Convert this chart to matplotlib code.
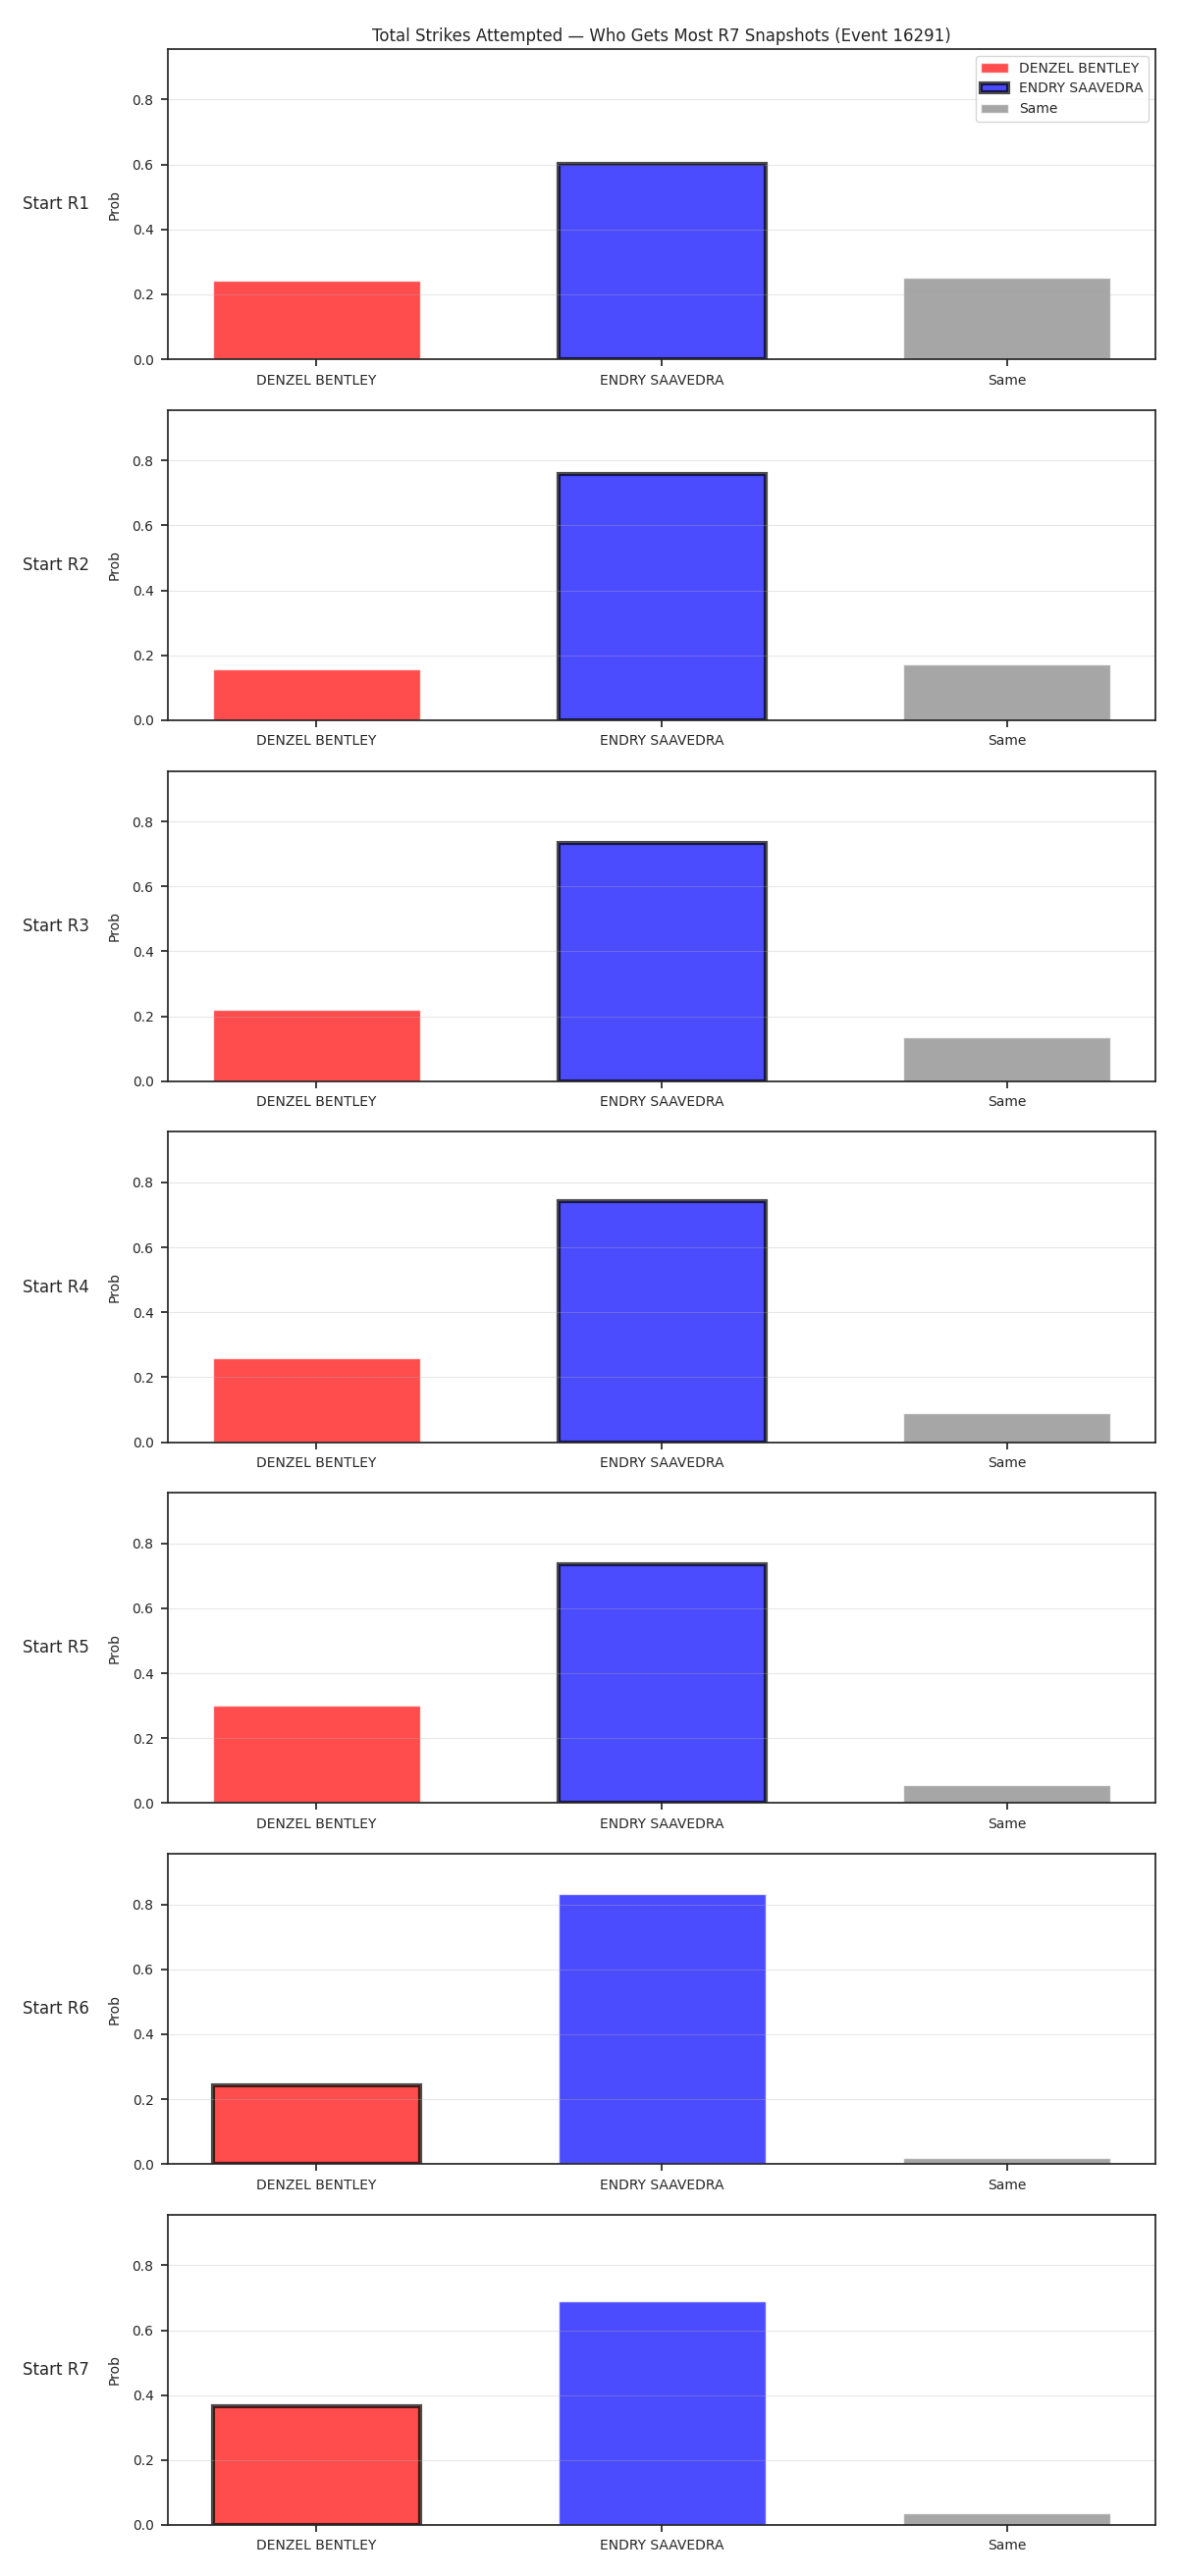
import numpy as np
import matplotlib
matplotlib.use("Agg")
import matplotlib.pyplot as plt

# data
title = "Total Strikes Attempted \u2014 Who Gets Most R7 Snapshots (Event 16291)"
outcomes = ["DENZEL BENTLEY", "ENDRY SAAVEDRA", "Same"]
starts = ["Start R1", "Start R2", "Start R3", "Start R4", "Start R5", "Start R6", "Start R7"]
p_denzel = [0.242, 0.158, 0.220, 0.260, 0.300, 0.243, 0.367]
p_endry = [0.601, 0.760, 0.734, 0.743, 0.737, 0.831, 0.690]
p_same = [0.251, 0.172, 0.134, 0.090, 0.055, 0.020, 0.036]
highlight = [1, 1, 1, 1, 1, 0, 0]   # bar outlined in each row

colors = ["red", "blue", "gray"]

plt.rcParams["axes.edgecolor"] = ".15"
plt.rcParams["axes.linewidth"] = 1.25
for a in ("xtick", "ytick"):
    plt.rcParams[a + ".major.size"] = 4.8
    plt.rcParams[a + ".major.pad"] = 5.6
    plt.rcParams[a + ".major.width"] = 1.25
    plt.rcParams[a + ".color"] = ".15"
    plt.rcParams[a + ".labelcolor"] = ".15"
plt.rcParams["text.color"] = ".15"
plt.rcParams["axes.labelcolor"] = ".15"

fig, axes = plt.subplots(len(starts), 1, figsize=(12, 26.25), dpi=100)
fig.subplots_adjust(left=0.1425, right=0.981, top=0.98095, bottom=0.01981, hspace=0.1636)

ymax = max(max(p_denzel), max(p_endry), max(p_same)) * 1.15
x = np.arange(len(outcomes))

for i, ax in enumerate(axes):
    vals = [p_denzel[i], p_endry[i], p_same[i]]
    for j in range(len(outcomes)):
        if j == highlight[i]:
            ax.bar(x[j], vals[j], width=0.6, color=colors[j], alpha=0.7,
                   edgecolor="black", linewidth=3, label=outcomes[j])
        else:
            ax.bar(x[j], vals[j], width=0.6, color=colors[j], alpha=0.7,
                   edgecolor="white", linewidth=1, label=outcomes[j])
    ax.set_xticks(x)
    ax.set_xticklabels(outcomes)
    ax.set_ylim(0, ymax)
    ax.set_ylabel("Prob", labelpad=8)
    ax.grid(axis="y", alpha=0.3)
    ax.text(-0.08, 0.5, starts[i], transform=ax.transAxes, ha="right",
            va="center", fontsize=12)
    if i == 0:
        ax.set_title(title, fontsize=12)
        ax.legend(loc="upper right")

fig.savefig("out.png", dpi=100)
